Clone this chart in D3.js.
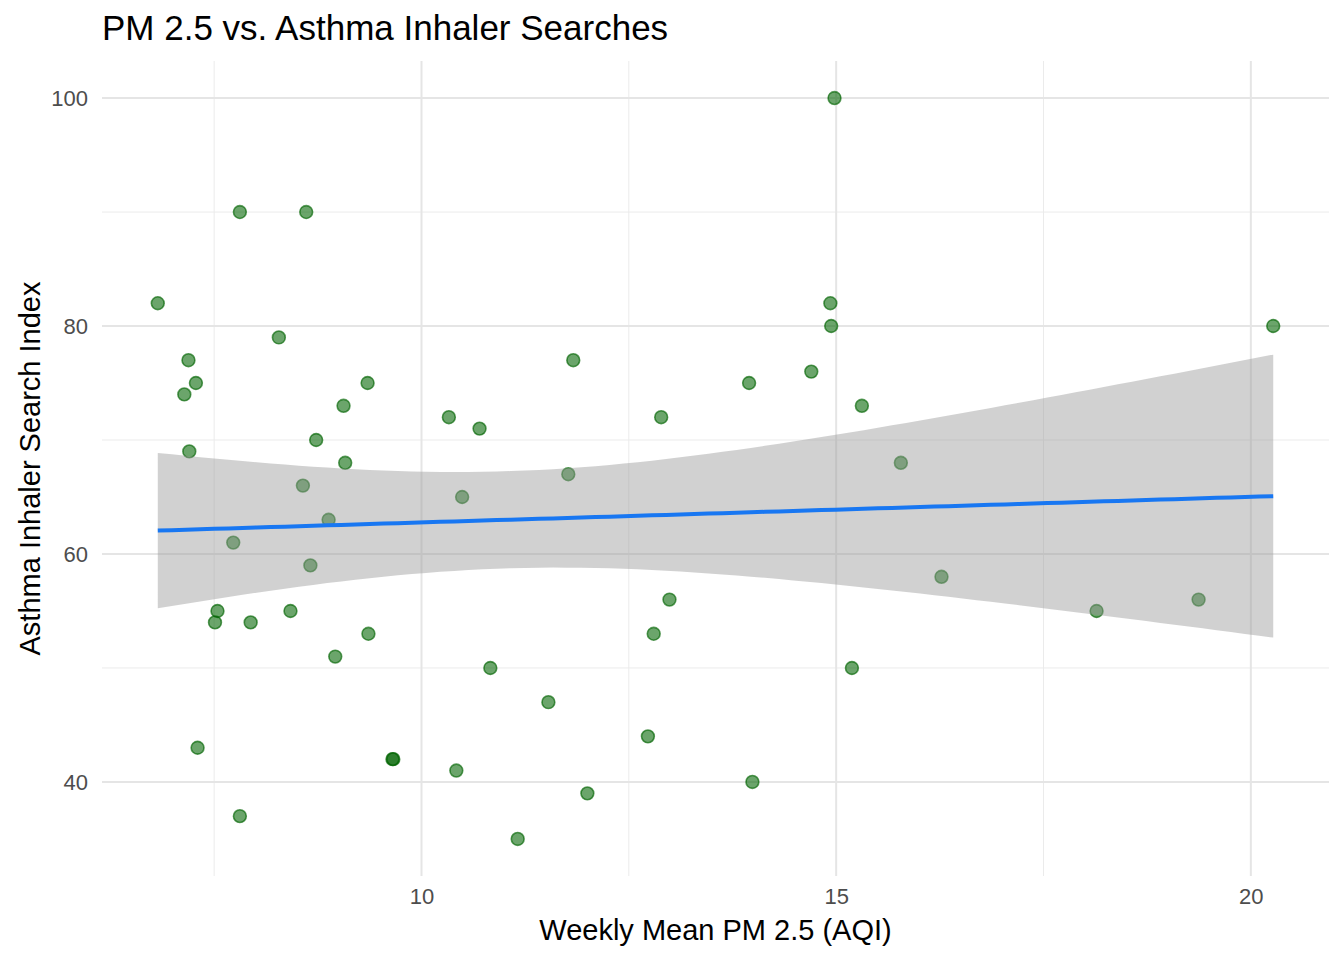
<!DOCTYPE html>
<html>
<head>
<meta charset="utf-8">
<script src="https://cdn.jsdelivr.net/npm/d3@7"></script>
<style>
  html, body { margin: 0; padding: 0; background: #ffffff; }
  svg { display: block; font-family: "Liberation Sans", Arial, Helvetica, sans-serif; }
</style>
</head>
<body>
<svg id="chart" width="1344" height="960"></svg>
<script>
// ---- Data ----
const pm25 = [6.82, 7.81, 8.61, 14.98, 7.19, 7.14, 7.28, 7.20, 8.28, 9.35,
              9.06, 8.73, 9.08, 8.57, 8.88, 7.73, 8.66, 7.54, 7.51, 7.94,
              8.42, 9.36, 8.96, 7.30, 7.81, 9.65, 9.66, 10.33, 10.70, 10.49,
              10.83, 10.42, 11.16, 11.53, 11.83, 11.77, 12.00, 12.89, 12.99, 12.80,
              12.73, 13.95, 13.99, 14.93, 14.94, 14.70, 15.31, 15.19, 15.78, 16.27,
              18.14, 19.37, 20.27];
const searchIndex = [82, 90, 90, 100, 77, 74, 75, 69, 79, 75,
                     73, 70, 68, 66, 63, 61, 59, 55, 54, 54,
                     55, 53, 51, 43, 37, 42, 42, 72, 71, 65,
                     50, 41, 35, 47, 77, 67, 39, 72, 56, 53,
                     44, 75, 40, 82, 80, 76, 73, 50, 68, 58,
                     55, 56, 80];
const xTicks = [10, 15, 20];
const xMinorTicks = [7.5, 12.5, 17.5];
const yTicks = [40, 60, 80, 100];
const yMinorTicks = [50, 70, 90];
const titleText = "PM 2.5 vs. Asthma Inhaler Searches";
const xLabel = "Weekly Mean PM 2.5 (AQI)";
const yLabel = "Asthma Inhaler Search Index";

// ---- Layout ----
const svg = d3.select("#chart");
const panel = { left: 102, right: 1329, top: 61, bottom: 876 };

const points = pm25.map((x, i) => ({ x, y: searchIndex[i] }));
const xExt = d3.extent(pm25), yExt = d3.extent(searchIndex);
const xPad = (xExt[1] - xExt[0]) * 0.05, yPad = (yExt[1] - yExt[0]) * 0.05;
const x = d3.scaleLinear().domain([xExt[0] - xPad, xExt[1] + xPad]).range([panel.left, panel.right]);
const y = d3.scaleLinear().domain([yExt[0] - yPad, yExt[1] + yPad]).range([panel.bottom, panel.top]);

// ---- Grid ----
const grid = svg.append("g");
grid.selectAll(".xminor").data(xMinorTicks).join("line")
  .attr("x1", d => x(d)).attr("x2", d => x(d)).attr("y1", panel.top).attr("y2", panel.bottom)
  .attr("stroke", "#ebebeb").attr("stroke-width", 1);
grid.selectAll(".yminor").data(yMinorTicks).join("line")
  .attr("y1", d => y(d)).attr("y2", d => y(d)).attr("x1", panel.left).attr("x2", panel.right)
  .attr("stroke", "#ebebeb").attr("stroke-width", 1);
grid.selectAll(".xmajor").data(xTicks).join("line")
  .attr("x1", d => x(d)).attr("x2", d => x(d)).attr("y1", panel.top).attr("y2", panel.bottom)
  .attr("stroke", "#e5e5e5").attr("stroke-width", 2);
grid.selectAll(".ymajor").data(yTicks).join("line")
  .attr("y1", d => y(d)).attr("y2", d => y(d)).attr("x1", panel.left).attr("x2", panel.right)
  .attr("stroke", "#e5e5e5").attr("stroke-width", 2);

// ---- Axes (tick labels only) ----
const xAxis = svg.append("g").attr("transform", `translate(0,${panel.bottom})`)
  .call(d3.axisBottom(x).tickValues(xTicks).tickSize(0).tickPadding(12));
const yAxis = svg.append("g").attr("transform", `translate(${panel.left},0)`)
  .call(d3.axisLeft(y).tickValues(yTicks).tickSize(0).tickPadding(14));
[xAxis, yAxis].forEach(a => {
  a.select(".domain").remove();
  a.selectAll("text").attr("fill", "#4d4d4d").style("font-size", "22px")
    .style("font-family", '"Liberation Sans", Arial, sans-serif');
});

// ---- Points ----
svg.append("g").selectAll("circle").data(points).join("circle")
  .attr("cx", d => x(d.x)).attr("cy", d => y(d.y)).attr("r", 6.4)
  .attr("fill", "#006400").attr("fill-opacity", 0.58)
  .attr("stroke", "#006400").attr("stroke-opacity", 0.65).attr("stroke-width", 1.6);

// ---- Linear fit with 95% CI (as geom_smooth(method = "lm")) ----
const n = points.length;
const mx = d3.mean(pm25), my = d3.mean(searchIndex);
const sxx = d3.sum(pm25, v => (v - mx) ** 2);
const sxy = d3.sum(points, p => (p.x - mx) * (p.y - my));
const slope = sxy / sxx, intercept = my - slope * mx;
const rss = d3.sum(points, p => (p.y - (intercept + slope * p.x)) ** 2);
const sigma = Math.sqrt(rss / (n - 2));
const tq = 2.0076; // t(0.975, df = n - 2)
const grid80 = d3.range(80).map(i => xExt[0] + (xExt[1] - xExt[0]) * i / 79);
const fit = grid80.map(xv => {
  const yh = intercept + slope * xv;
  const se = sigma * Math.sqrt(1 / n + (xv - mx) ** 2 / sxx);
  return { x: xv, y: yh, lo: yh - tq * se, hi: yh + tq * se };
});

svg.append("path").datum(fit)
  .attr("d", d3.area().x(d => x(d.x)).y0(d => y(d.lo)).y1(d => y(d.hi)))
  .attr("fill", "#999999").attr("fill-opacity", 0.45);
svg.append("path").datum(fit)
  .attr("d", d3.line().x(d => x(d.x)).y(d => y(d.y)))
  .attr("fill", "none").attr("stroke", "#1877f2").attr("stroke-width", 4);

// ---- Titles ----
svg.append("text").attr("x", panel.left).attr("y", 40)
  .attr("font-size", 35).attr("fill", "#000").text(titleText);
svg.append("text").attr("x", (panel.left + panel.right) / 2).attr("y", 940)
  .attr("text-anchor", "middle").attr("font-size", 29).attr("fill", "#000").text(xLabel);
svg.append("text").attr("transform", `translate(40,${(panel.top + panel.bottom) / 2}) rotate(-90)`)
  .attr("text-anchor", "middle").attr("font-size", 29).attr("fill", "#000").text(yLabel);
</script>
</body>
</html>
